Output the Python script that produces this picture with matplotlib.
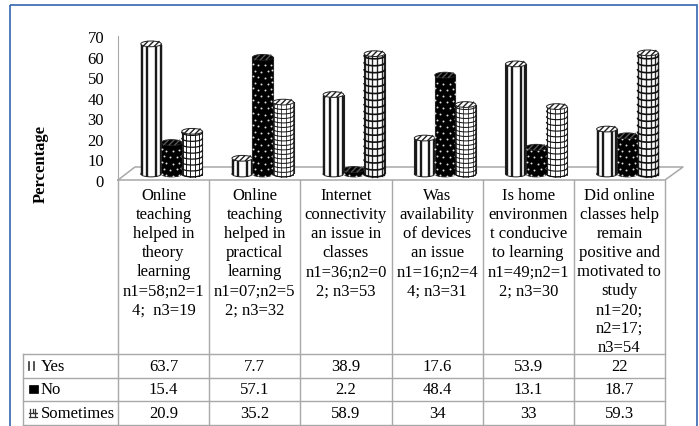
import numpy as np
import matplotlib
matplotlib.use('Agg')
import matplotlib.pyplot as plt
from matplotlib.patches import Ellipse, Rectangle

plt.rcParams['font.family'] = ['Liberation Serif', 'DejaVu Serif']

categories = [
    "Online\nteaching\nhelped in\ntheory\nlearning\nn1=58;n2=1\n4;  n3=19",
    "Online\nteaching\nhelped in\npractical\nlearning\nn1=07;n2=5\n2; n3=32",
    "Internet\nconnectivity\nan issue in\nclasses\nn1=36;n2=0\n2; n3=53",
    "Was\navailability\nof devices\nan issue\nn1=16;n2=4\n4; n3=31",
    "Is home\nenvironmen\nt conducive\nto learning\nn1=49;n2=1\n2; n3=30",
    "Did online\nclasses help\nremain\npositive and\nmotivated to\nstudy\nn1=20;\nn2=17;\nn3=54",
]
series_names = ["Yes", "No", "Sometimes"]
yes = [63.7, 7.7, 38.9, 17.6, 53.9, 22]
no = [15.4, 57.1, 2.2, 48.4, 13.1, 18.7]
sometimes = [20.9, 35.2, 58.9, 34, 33, 59.3]
yticks = [0, 10, 20, 30, 40, 50, 60, 70]

W, H = 699, 427
GRID = '#a8a8a8'
FS = 12

fig = plt.figure(figsize=(W / 100, H / 100), dpi=100)


def axes_px(left, top, right, bottom):
    return fig.add_axes([left / W, 1 - bottom / H, (right - left) / W, (bottom - top) / H])


# page layer in pixel units: frame, floor, table rules and text
page = axes_px(0, 0, W, H)
page.set_xlim(0, W)
page.set_ylim(H, 0)
page.axis('off')

page.add_patch(Rectangle((9.5, 6), 687, 440, fill=False, ec='#3565b0', lw=1.2))

# floor of the 3D chart
page.plot([118, 135, 683, 665, 118], [181, 168, 168, 181, 181], color=GRID, lw=1.1)

col_edges = [118, 209.2, 300.4, 391.5, 482.7, 573.8, 665]
row_edges = [355, 378.5, 402, 426]
for x in col_edges:
    page.plot([x, x], [181, 426], color=GRID, lw=1)
page.plot([23, 23], [355, 426], color=GRID, lw=1)
for y in row_edges:
    page.plot([23, 665], [y, y], color=GRID, lw=1)

for i, label in enumerate(categories):
    cx = (col_edges[i] + col_edges[i + 1]) / 2
    page.text(cx, 188.5, label, ha='center', va='top', fontsize=FS, linespacing=1.245)

rows = [yes, no, sometimes]
for r, (name, vals) in enumerate(zip(series_names, rows)):
    cy = (row_edges[r] + row_edges[r + 1]) / 2
    page.text(40.5, cy, name, ha='left', va='center', fontsize=FS)
    for i, v in enumerate(vals):
        cx = (col_edges[i] + col_edges[i + 1]) / 2
        page.text(cx, cy, f"{v:g}", ha='center', va='center', fontsize=FS)

# legend keys in the table
page.plot([29, 29], [363, 371], color='#333333', lw=1.2)
page.plot([33.5, 33.5], [363, 371], color='#333333', lw=1.2)
page.add_patch(Rectangle((29, 386), 9, 8, fc='black', ec='black', lw=0.5))
page.plot([28.5, 36.5, 32.5, 32.5], [414, 414, 414, 410], color='#333333', lw=0.9)
page.plot([30, 30], [410, 418], color='#333333', lw=0.9)
page.plot([34.5, 34.5], [410, 418], color='#333333', lw=0.9)
page.plot([28.5, 36.5], [417.5, 417.5], color='#333333', lw=0.9)

page.text(41, 164, "Percentage", rotation=90, ha='center', va='center',
          fontsize=12, fontweight='bold')

# front value axis carrying the tick labels
axis_ax = axes_px(118, 37, 665, 181)
axis_ax.patch.set_alpha(0)
axis_ax.set_ylim(0, 70)
axis_ax.set_xlim(0, 6)
axis_ax.set_yticks(yticks)
axis_ax.set_xticks([])
axis_ax.tick_params(axis='y', length=0, pad=10, labelsize=FS)
for name in ['top', 'right', 'bottom']:
    axis_ax.spines[name].set_visible(False)
axis_ax.spines['left'].set_color(GRID)

# cylinders sit further back, so they use their own axes
ax = axes_px(126, 32, 673, 175)
ax.patch.set_alpha(0)
ax.set_xlim(0, 6)
ax.set_ylim(0, 70)
ax.axis('off')

BAR_W = 0.225
CAP = 1.4  # half height of the elliptical end, in value units
u = np.linspace(-1, 1, 40)


def wrap(half, angles):
    return half * np.sin(np.radians(angles))


def cylinder(x, v, hatch_fn, fc='white', cap_line='#222222'):
    half = BAR_W / 2
    ax.add_patch(Ellipse((x, 0), BAR_W, 2 * CAP, fc=fc, ec='#222222', lw=0.7, zorder=3, clip_on=False))
    ax.bar(x, v, BAR_W, color=fc, lw=0, zorder=3)
    ax.plot([x - half, x - half], [0, v], color='#222222', lw=0.8, zorder=3)
    ax.plot([x + half, x + half], [0, v], color='#222222', lw=0.8, zorder=3)
    hatch_fn(x, v, half)
    # top cap with slanted stripes
    ax.add_patch(Ellipse((x, v), BAR_W, 2 * CAP, fc=fc, ec='#222222', lw=0.7, zorder=3))
    for d in [-0.55, 0, 0.55]:
        ax.plot([x + half * d - 0.025, x + half * d + 0.025], [v - CAP * 0.8, v + CAP * 0.8],
                color=cap_line, lw=1, zorder=3)


def stripes(x, v, half):
    angles = np.array([-62, -22, 28, 68])
    for a, off in zip(angles, wrap(half, angles)):
        b = np.cos(np.radians(a))
        ax.plot([x + off, x + off], [-CAP * b, v - CAP * b], color='#1a1a1a', lw=1.7,
                solid_capstyle='butt', zorder=3, clip_on=False)


def dots(x, v, half):
    ys = np.arange(0.5, v, 3.0)
    for k, yy in enumerate(ys):
        angles = np.array([-50, -10, 30, 70]) if k % 2 else np.array([-70, -30, 10, 50])
        ax.scatter(x + wrap(half, angles), yy - CAP * np.cos(np.radians(angles)), s=2,
                   c='#dddddd', linewidths=0, zorder=3, clip_on=False)


def grid_pattern(pitch, lw):
    def draw(x, v, half):
        for a in np.array([-68, -40, -12, 16, 44, 72]):
            off = half * np.sin(np.radians(a))
            b = np.cos(np.radians(a))
            ax.plot([x + off, x + off], [-CAP * b, v - CAP * b], color='#222222',
                    lw=lw * 0.8, zorder=3, clip_on=False)
        for yy in np.arange(0, v, pitch):
            ax.plot(x + half * u, yy - CAP * np.sqrt(1 - u ** 2), color='#111111',
                    lw=lw, zorder=3, clip_on=False)
    return draw


# line pitch of the gridded columns varies from group to group
pitches = [2.9, 2.2, 3.4, 2.2, 2.8, 3.4]
widths = [0.9, 0.7, 1.2, 0.7, 0.8, 1.2]

for i in range(6):
    c = i + 0.5
    cylinder(c - BAR_W, yes[i], stripes)
    cylinder(c, no[i], dots, fc='black', cap_line='#555555')
    cylinder(c + BAR_W, sometimes[i], grid_pattern(pitches[i], widths[i]))

fig.savefig('out.png', dpi=100)
